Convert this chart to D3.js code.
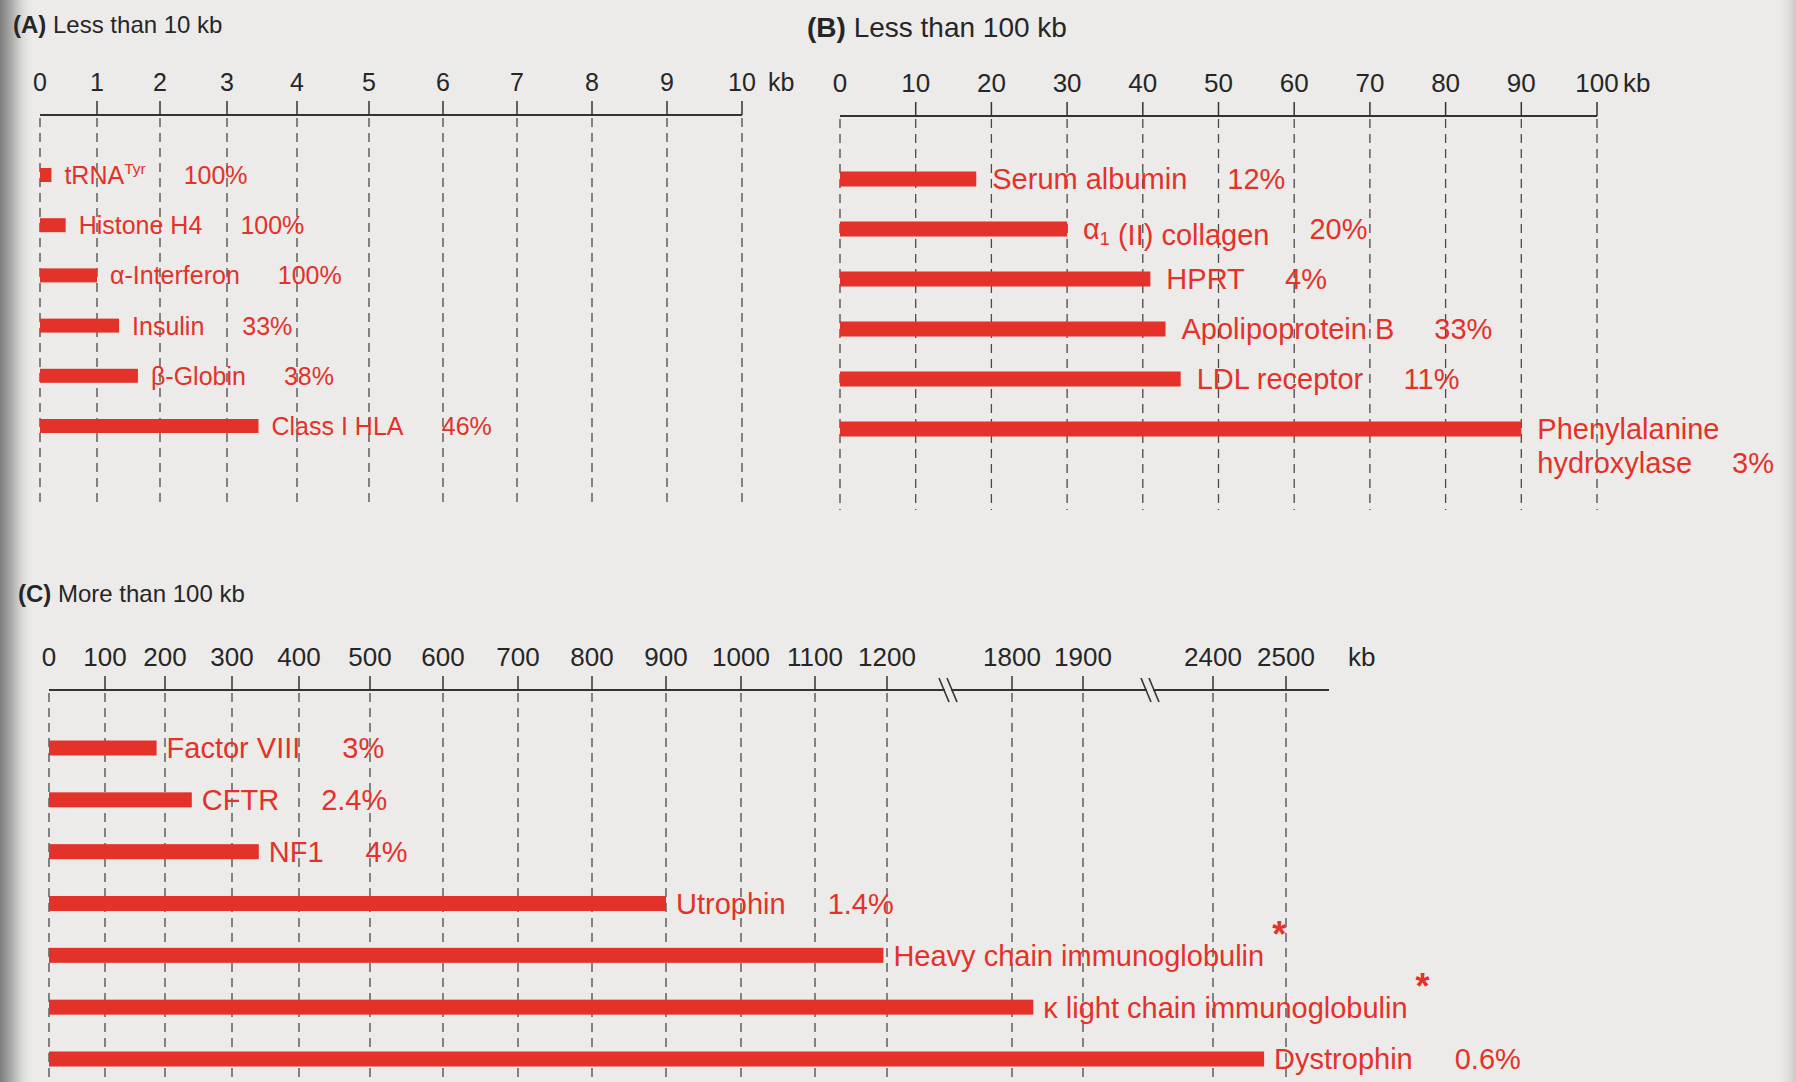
<!DOCTYPE html>
<html>
<head>
<meta charset="utf-8">
<script src="https://cdn.jsdelivr.net/npm/d3@7"></script>
<style>
  body { margin: 0; background: #ecebe9; }
  text { font-family: "Liberation Sans", Arial, Helvetica, sans-serif; }
</style>
</head>
<body>
<div id="vis-container"></div>
<script>
////////////////////////////////////
/////////////// Data ///////////////
////////////////////////////////////

// (A) less than 10 kb  -- sizes in kb
const genesA = ['tRNA^Tyr', 'Histone H4', 'α-Interferon', 'Insulin', 'β-Globin', 'Class I HLA']
const sizesA = [0.2, 0.45, 1.0, 1.35, 1.65, 3.45]
const pctA = ['100%', '100%', '100%', '33%', '38%', '46%']
const ticksA = [0, 1, 2, 3, 4, 5, 6, 7, 8, 9, 10]

// (B) less than 100 kb
const genesB = ['Serum albumin', 'α_1 (II) collagen', 'HPRT', 'Apolipoprotein B', 'LDL receptor', 'Phenylalanine|hydroxylase']
const sizesB = [18, 30, 41, 43, 45, 90]
const pctB = ['12%', '20%', '4%', '33%', '11%', '3%']
const ticksB = [0, 10, 20, 30, 40, 50, 60, 70, 80, 90, 100]

// (C) more than 100 kb
const genesC = ['Factor VIII', 'CFTR', 'NF1', 'Utrophin', 'Heavy chain immunoglobulin^*', 'κ light chain immunoglobulin^*', 'Dystrophin']
const sizesC = [186, 240, 340, 900, 1195, 1830, 2470]
const pctC = ['3%', '2.4%', '4%', '1.4%', '', '', '0.6%']
const ticksC = [0, 100, 200, 300, 400, 500, 600, 700, 800, 900, 1000, 1100, 1200, 1800, 1900, 2400, 2500]

////////////////////////////////////
///////////// SVG Setup ////////////
////////////////////////////////////

const svgWidth = 1796
const svgHeight = 1082
const red = '#e3322a'
const ink = '#262626'
const paper = '#ecebe9'

const svg = d3.select('#vis-container')
    .append('svg')
    .attr('width', svgWidth)
    .attr('height', svgHeight)

const defs = svg.append('defs')
const bind = defs.append('linearGradient').attr('id', 'binding')
bind.append('stop').attr('offset', 0).attr('stop-color', '#7c7c7c')
bind.append('stop').attr('offset', 0.4).attr('stop-color', '#b4b4b3')
bind.append('stop').attr('offset', 1).attr('stop-color', paper).attr('stop-opacity', 0)
const edge = defs.append('linearGradient').attr('id', 'edge')
edge.append('stop').attr('offset', 0).attr('stop-color', paper).attr('stop-opacity', 0)
edge.append('stop').attr('offset', 1).attr('stop-color', '#cdc6c4')

svg.append('rect').attr('width', svgWidth).attr('height', svgHeight).attr('fill', paper)
svg.append('rect').attr('width', 34).attr('height', svgHeight).attr('fill', 'url(#binding)')
svg.append('rect').attr('x', 1776).attr('width', 20).attr('height', svgHeight).attr('fill', 'url(#edge)')

////////////////////////////////////
////////////// Panels //////////////
////////////////////////////////////

// the scan squeezes the left half of the page, so A and C use piecewise scales
const panels = [
    {
        key: 'A', title: 'Less than 10 kb', tx: 13, ty: 33, titleSize: 24,
        genes: genesA, sizes: sizesA, pct: pctA, ticks: ticksA,
        x: d3.scaleLinear().domain(ticksA).range([40, 97, 160, 227, 297, 369, 443, 517, 592, 667, 742]),
        rows: [175, 426], axisY: 115, axisEnd: 742, gridEnd: 508,
        barH: 14, font: 25, tickFont: 25, labelGap: 13, pctGap: 38
    },
    {
        key: 'B', title: 'Less than 100 kb', tx: 807, ty: 37, titleSize: 28,
        genes: genesB, sizes: sizesB, pct: pctB, ticks: ticksB,
        x: d3.scaleLinear().domain([0, 100]).range([840, 1597]),
        rows: [179, 429], axisY: 116, axisEnd: 1597, gridEnd: 510,
        barH: 15, font: 29, tickFont: 26, labelGap: 16, pctGap: 40
    },
    {
        key: 'C', title: 'More than 100 kb', tx: 18, ty: 602, titleSize: 24,
        genes: genesC, sizes: sizesC, pct: pctC, ticks: ticksC,
        x: d3.scaleLinear().domain(ticksC)
            .range([49, 105, 165, 232, 299, 370, 443, 518, 592, 666, 741, 815, 887, 1012, 1083, 1213, 1286]),
        rows: [748, 1059], axisY: 690, axisEnd: 1329, gridEnd: svgHeight,
        barH: 15, font: 29, tickFont: 26, labelGap: 10, pctGap: 42,
        breaks: [948, 1150]
    }
]

// label with ^sup, _sub and | line breaks
function richLabel(g, str, x, y, fs) {
    const lines = str.split('|')
    let last
    lines.forEach((line, i) => {
        const t = g.append('text')
            .attr('x', x)
            .attr('y', y + i * 34)
            .attr('dy', '0.36em')
            .attr('fill', red)
            .attr('font-size', fs)
        line.split(/([\^_][^\s]+)/).filter(s => s.length).forEach(part => {
            if (part === '^*') {
                t.append('tspan').attr('dx', 8).attr('dy', -19)
                    .attr('font-size', fs + 7).attr('font-weight', 'bold').text('*')
            } else if (part[0] === '^') {
                t.append('tspan').attr('dy', -10).attr('font-size', fs * 0.62).text(part.slice(1))
                t.append('tspan').attr('dy', 10).text('')
            } else if (part[0] === '_') {
                t.append('tspan').attr('dy', 6).attr('font-size', fs * 0.62).text(part.slice(1))
                t.append('tspan').attr('dy', -6).text('')
            } else {
                t.append('tspan').text(part)
            }
        })
        last = t
    })
    return last
}

panels.forEach(p => {
    const g = svg.append('g').attr('class', 'panel-' + p.key)
    const x = p.x
    const y = d3.scalePoint().domain(p.genes).range(p.rows)

    // title
    const title = g.append('text')
        .attr('x', p.tx).attr('y', p.ty)
        .attr('font-size', p.titleSize)
        .attr('fill', ink)
    title.append('tspan').attr('font-weight', 'bold').text('(' + p.key + ')')
    title.append('tspan').text(' ' + p.title)

    // dashed guide lines
    g.selectAll('.grid')
        .data(p.ticks)
        .join('line')
        .attr('class', 'grid')
        .attr('x1', d => x(d)).attr('x2', d => x(d))
        .attr('y1', p.axisY + 3).attr('y2', p.gridEnd)
        .attr('stroke', '#4a4a4a')
        .attr('stroke-width', 1.3)
        .attr('stroke-dasharray', '9,6')

    // axis line and ticks
    g.append('line')
        .attr('x1', x(p.ticks[0])).attr('x2', p.axisEnd)
        .attr('y1', p.axisY).attr('y2', p.axisY)
        .attr('stroke', '#333').attr('stroke-width', 2)

    g.selectAll('.tick')
        .data(p.ticks.slice(1))
        .join('line')
        .attr('class', 'tick')
        .attr('x1', d => x(d)).attr('x2', d => x(d))
        .attr('y1', p.axisY - 14).attr('y2', p.axisY)
        .attr('stroke', '#333').attr('stroke-width', 1.5)

    g.selectAll('.ticklabel')
        .data(p.ticks)
        .join('text')
        .attr('class', 'ticklabel')
        .attr('x', d => x(d))
        .attr('y', p.axisY - 24)
        .attr('text-anchor', 'middle')
        .attr('font-size', p.tickFont)
        .attr('fill', ink)
        .text(d => d)

    const lastTick = p.ticks[p.ticks.length - 1]
    g.append('text')
        .attr('x', p.key === 'C' ? p.axisEnd + 19 : x(lastTick) + 26)
        .attr('y', p.axisY - 24)
        .attr('font-size', p.tickFont)
        .attr('fill', ink)
        .text('kb')

    // axis breaks
    if (p.breaks) {
        p.breaks.forEach(bx => {
            g.append('rect')
                .attr('x', bx - 3).attr('y', p.axisY - 3)
                .attr('width', 6).attr('height', 6)
                .attr('fill', paper)
            ;[-4, 4].forEach(o => {
                g.append('line')
                    .attr('x1', bx + o - 5).attr('x2', bx + o + 5)
                    .attr('y1', p.axisY - 12).attr('y2', p.axisY + 12)
                    .attr('stroke', '#333').attr('stroke-width', 1.6)
            })
        })
    }

    // bars
    g.selectAll('.bar')
        .data(p.genes)
        .join('rect')
        .attr('class', 'bar')
        .attr('x', x(0))
        .attr('y', d => y(d) - p.barH / 2)
        .attr('width', (d, i) => x(p.sizes[i]) - x(0))
        .attr('height', p.barH)
        .attr('fill', red)

    // gene names and percentages
    p.genes.forEach((gene, i) => {
        const lx = x(p.sizes[i]) + p.labelGap
        const t = richLabel(g, gene, lx, y(gene), p.font)
        if (p.pct[i]) {
            const bb = t.node().getBBox()
            g.append('text')
                .attr('x', bb.x + bb.width + p.pctGap)
                .attr('y', +t.attr('y'))
                .attr('dy', '0.36em')
                .attr('font-size', p.font)
                .attr('fill', red)
                .text(p.pct[i])
        }
    })
})
</script>
</body>
</html>
